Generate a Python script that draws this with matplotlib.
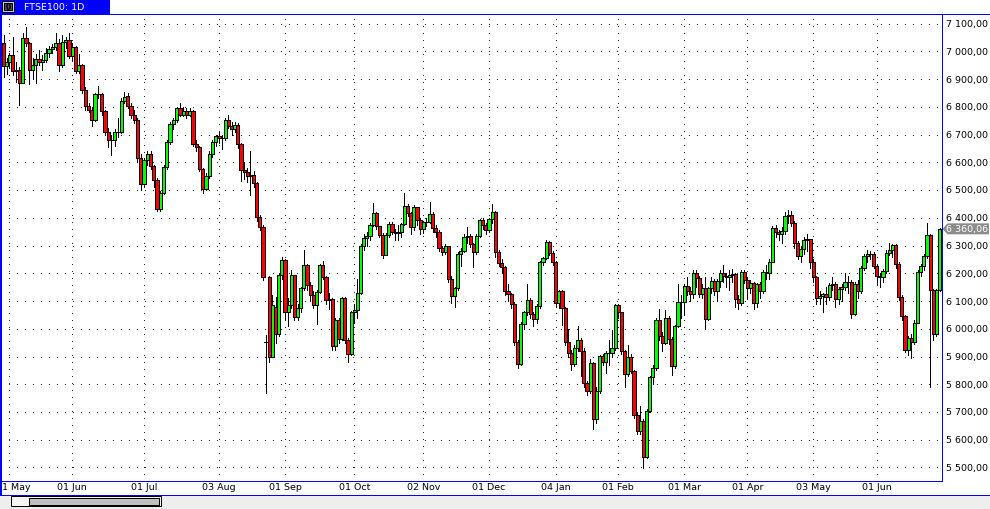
import matplotlib
matplotlib.use("Agg")
import matplotlib.pyplot as plt
import numpy as np
import pandas as pd
from matplotlib.patches import Rectangle, Polygon

# ---------------- data ----------------
uk_holidays = ["2015-05-04", "2015-05-25", "2015-08-31", "2015-12-25", "2015-12-28",
               "2016-01-01", "2016-03-25", "2016-03-28", "2016-05-02", "2016-05-30"]
extra_bars = ["2015-08-23"]   # odd weekend bar drawn in the chart
dates = pd.bdate_range("2015-04-29", "2016-06-29", freq="C", holidays=uk_holidays)
dates = dates.union(pd.DatetimeIndex(extra_bars))

opens = [
    7031, 6947, 6961, 6986, 6928, 6934, 6886, 7047, 7030, 6933, 6950, 6973, 6961, 6969, 6995, 7008, 7014, 7031, 6949, 7033, 7040,
    6984, 7015, 6928, 6950, 6859, 6804, 6790, 6753, 6845, 6846, 6784, 6710, 6681, 6680, 6708, 6710, 6822, 6840, 6804, 6770, 6753, 6616,
    6522, 6608, 6630, 6586, 6535, 6432, 6490, 6582, 6673, 6738, 6752, 6794, 6772, 6786, 6772, 6786, 6666, 6654, 6576, 6504, 6552, 6630, 6672,
    6694, 6686, 6688, 6752, 6732, 6720, 6736, 6666, 6571, 6566, 6552, 6555, 6524, 6402, 6366, 5954, 6186, 5898, 6077, 5981, 6192,
    6246, 6060, 6084, 6192, 6042, 6074, 6146, 6230, 6156, 6120, 6086, 6134, 6230, 6186, 6102, 6108, 5937, 6030, 5964, 6110, 5958, 5910,
    6060, 6069, 6129, 6300, 6326, 6336, 6374, 6416, 6369, 6339, 6267, 6339, 6377, 6347, 6345, 6348, 6377, 6443, 6417, 6365, 6437, 6393,
    6360, 6383, 6384, 6413, 6362, 6350, 6291, 6275, 6297, 6180, 6117, 6146, 6269, 6279, 6329, 6334, 6305, 6275, 6336, 6392, 6374,
    6356, 6395, 6420, 6275, 6237, 6221, 6135, 6125, 6089, 5951, 5873, 6017, 6059, 6104, 6053, 6035, 6081, 6239, 6254, 6314, 6273,
    6242, 6093, 6137, 6074, 5954, 5913, 5873, 5930, 5960, 5921, 5805, 5777, 5877, 5675, 5775, 5901, 5879, 5912, 5911, 5931,
    6086, 6059, 5921, 5837, 5897, 5846, 5690, 5631, 5669, 5537, 5705, 5825, 5858, 6032, 5975, 5949, 6038, 5963, 5865, 6011, 6095,
    6097, 6153, 6137, 6125, 6200, 6182, 6126, 6146, 6035, 6146, 6173, 6137, 6173, 6200, 6189, 6185, 6192, 6199, 6107, 6091, 6203,
    6176, 6146, 6164, 6093, 6161, 6135, 6203, 6200, 6242, 6362, 6347, 6343, 6354, 6405, 6410, 6381, 6309, 6263, 6287, 6321, 6322,
    6242, 6185, 6110, 6117, 6125, 6114, 6157, 6162, 6107, 6143, 6150, 6167, 6170, 6053, 6161, 6136, 6218, 6263, 6269, 6270,
    6227, 6191, 6185, 6209, 6273, 6284, 6303, 6233, 6113, 6045, 5924, 5966, 5951, 6021, 6203, 6227, 6261, 6338, 6140, 5981, 6140,
]
highs = [
    7060, 6975, 6995, 7052, 6960, 6945, 7065, 7086, 7035, 6975, 6990, 7004, 6985, 7013, 7020, 7025, 7064, 7043, 7058, 7050, 7067,
    7030, 7020, 6990, 6955, 6870, 6815, 6800, 6850, 6875, 6850, 6790, 6725, 6700, 6720, 6760, 6830, 6854, 6850, 6812, 6790, 6760, 6630,
    6615, 6640, 6640, 6590, 6545, 6495, 6590, 6680, 6745, 6760, 6800, 6815, 6800, 6795, 6795, 6790, 6680, 6660, 6580, 6560, 6640, 6680, 6700,
    6710, 6700, 6760, 6770, 6745, 6745, 6740, 6670, 6600, 6580, 6642, 6570, 6530, 6410, 6375, 5978, 6190, 6120, 6113, 6200, 6260,
    6250, 6110, 6210, 6195, 6090, 6150, 6285, 6235, 6170, 6135, 6140, 6235, 6245, 6190, 6130, 6110, 6040, 6040, 6115, 6115, 5965, 6065,
    6090, 6180, 6305, 6340, 6350, 6380, 6453, 6420, 6372, 6345, 6345, 6385, 6385, 6360, 6375, 6380, 6489, 6450, 6420, 6445, 6440, 6400,
    6390, 6400, 6458, 6420, 6375, 6355, 6300, 6305, 6300, 6190, 6150, 6275, 6290, 6340, 6365, 6340, 6310, 6340, 6395, 6398, 6380,
    6400, 6449, 6425, 6285, 6250, 6225, 6160, 6130, 6095, 5960, 6025, 6065, 6161, 6110, 6060, 6090, 6245, 6260, 6320, 6318, 6280,
    6245, 6140, 6140, 6080, 6000, 5925, 5940, 6011, 5965, 5930, 5810, 5890, 5880, 5790, 5905, 5910, 5920, 5960, 5995, 6090,
    6090, 6062, 5925, 5942, 5910, 5850, 5700, 5720, 5675, 5710, 5830, 5870, 6040, 6070, 5990, 6068, 6045, 5970, 6015, 6161, 6120,
    6160, 6185, 6150, 6210, 6210, 6190, 6160, 6185, 6150, 6185, 6180, 6180, 6210, 6230, 6200, 6210, 6215, 6200, 6120, 6210, 6210,
    6185, 6175, 6170, 6165, 6170, 6210, 6230, 6250, 6370, 6375, 6355, 6365, 6420, 6428, 6425, 6390, 6315, 6295, 6330, 6340, 6325,
    6250, 6190, 6135, 6130, 6150, 6165, 6185, 6170, 6150, 6160, 6200, 6190, 6175, 6170, 6175, 6225, 6270, 6285, 6280, 6275,
    6230, 6200, 6215, 6285, 6310, 6305, 6305, 6240, 6120, 6050, 5975, 5980, 6030, 6210, 6235, 6270, 6381, 6340, 6145, 6145, 6362,
]
lows = [
    6907, 6918, 6940, 6915, 6890, 6808, 6886, 7020, 6883, 6900, 6886, 6950, 6931, 6960, 6980, 6995, 7005, 6929, 6945, 7010, 6975,
    6970, 6920, 6920, 6850, 6790, 6780, 6732, 6750, 6830, 6770, 6700, 6654, 6627, 6660, 6690, 6705, 6815, 6795, 6760, 6740, 6600, 6500,
    6515, 6590, 6575, 6510, 6425, 6425, 6485, 6575, 6665, 6720, 6745, 6765, 6765, 6760, 6765, 6660, 6640, 6570, 6490, 6500, 6545, 6620, 6660,
    6670, 6648, 6680, 6725, 6700, 6710, 6650, 6534, 6540, 6530, 6482, 6510, 6390, 6355, 6175, 5768, 5880, 5898, 5950, 5975, 6180,
    6035, 6010, 6075, 6030, 6030, 6060, 6140, 6140, 6100, 6075, 6018, 6130, 6180, 6090, 6070, 5925, 5925, 5950, 5960, 5950, 5880, 5905,
    6020, 6040, 6125, 6285, 6300, 6320, 6370, 6360, 6330, 6255, 6265, 6330, 6340, 6320, 6320, 6330, 6375, 6405, 6340, 6355, 6375, 6340,
    6345, 6370, 6380, 6350, 6330, 6280, 6265, 6270, 6170, 6092, 6077, 6140, 6227, 6275, 6310, 6295, 6221, 6270, 6330, 6360, 6340,
    6350, 6380, 6260, 6225, 6200, 6120, 6100, 6075, 5940, 5860, 5870, 6000, 6050, 6040, 6010, 6020, 6075, 6230, 6250, 6265, 6230,
    6080, 6075, 6015, 5940, 5900, 5850, 5865, 5920, 5831, 5790, 5760, 5770, 5639, 5660, 5770, 5870, 5840, 5870, 5900, 5925,
    6040, 5910, 5789, 5830, 5840, 5680, 5620, 5620, 5498, 5535, 5700, 5800, 5850, 5960, 5920, 5945, 5945, 5835, 5860, 6005, 6040,
    6050, 6120, 6100, 6110, 6150, 6115, 6110, 6000, 6030, 6130, 6120, 6100, 6150, 6170, 6150, 6140, 6170, 6080, 6070, 6085, 6165,
    6110, 6130, 6070, 6080, 6110, 6130, 6180, 6180, 6240, 6330, 6320, 6310, 6340, 6380, 6370, 6290, 6250, 6240, 6270, 6280, 6220,
    6170, 6090, 6090, 6060, 6090, 6105, 6140, 6080, 6090, 6100, 6140, 6130, 6040, 6050, 6110, 6130, 6210, 6240, 6250, 6220,
    6160, 6150, 6170, 6200, 6265, 6260, 6220, 6105, 6030, 5915, 5905, 5895, 5945, 6020, 6190, 6210, 6255, 5789, 5961, 5975, 6135,
]
closes = [
    6947, 6961, 6986, 6928, 6934, 6886, 7047, 7030, 6933, 6950, 6973, 6961, 6969, 6995, 7008, 7014, 7031, 6949, 7033, 7040, 6984,
    7015, 6928, 6950, 6859, 6804, 6790, 6753, 6845, 6846, 6784, 6710, 6681, 6680, 6708, 6710, 6822, 6834, 6804, 6770, 6753, 6616, 6522,
    6608, 6630, 6586, 6535, 6432, 6490, 6582, 6673, 6738, 6752, 6794, 6772, 6786, 6772, 6786, 6666, 6654, 6576, 6504, 6552, 6630, 6672, 6694,
    6686, 6688, 6752, 6732, 6720, 6736, 6666, 6571, 6566, 6552, 6555, 6524, 6402, 6366, 6186, 5954, 5898, 6084, 5981, 6192, 6246,
    6060, 6084, 6192, 6042, 6074, 6146, 6230, 6156, 6120, 6086, 6134, 6230, 6186, 6102, 6108, 5937, 6030, 5964, 6110, 5958, 5910, 6060,
    6069, 6129, 6300, 6326, 6336, 6374, 6416, 6369, 6339, 6267, 6339, 6377, 6347, 6345, 6348, 6377, 6443, 6417, 6365, 6437, 6393, 6360,
    6383, 6384, 6413, 6362, 6350, 6291, 6275, 6297, 6180, 6117, 6146, 6269, 6279, 6329, 6334, 6305, 6275, 6336, 6392, 6374, 6356,
    6395, 6420, 6275, 6237, 6221, 6135, 6125, 6089, 5951, 5873, 6017, 6059, 6104, 6053, 6035, 6081, 6239, 6254, 6314, 6273, 6242,
    6093, 6137, 6074, 5954, 5913, 5873, 5930, 5960, 5921, 5805, 5777, 5877, 5675, 5775, 5901, 5879, 5912, 5911, 5931, 6086,
    6059, 5921, 5837, 5897, 5846, 5690, 5631, 5669, 5537, 5705, 5825, 5858, 6032, 5975, 5949, 6038, 5963, 5865, 6011, 6095, 6097,
    6153, 6137, 6125, 6200, 6182, 6126, 6146, 6035, 6146, 6173, 6137, 6173, 6200, 6189, 6185, 6192, 6199, 6107, 6091, 6203, 6176,
    6146, 6164, 6093, 6161, 6135, 6203, 6200, 6242, 6362, 6347, 6343, 6354, 6405, 6410, 6381, 6309, 6263, 6287, 6321, 6322, 6242,
    6185, 6110, 6117, 6125, 6114, 6157, 6162, 6107, 6143, 6150, 6167, 6170, 6053, 6161, 6136, 6218, 6263, 6269, 6270, 6227,
    6191, 6185, 6209, 6273, 6284, 6303, 6233, 6113, 6045, 5924, 5966, 5951, 6021, 6203, 6227, 6261, 6338, 6140, 5981, 6140, 6360.06,
]
y_ticks = list(range(5500, 7101, 100))
title_text = "FTSE100: 1D"

assert len(opens) == len(highs) == len(lows) == len(closes) == len(dates)

# ---------------- layout helpers (pixel geometry) ----------------
W, H = 990, 510
fig = plt.figure(figsize=(W / 100, H / 100), dpi=100)
fig.patch.set_facecolor("white")

def fx(x):
    return x / W

def fy(y):
    return 1 - y / H

PX = 0.72  # one pixel in points
BLUE = "#0000ff"
plot_l, plot_r, plot_t, plot_b = 1, 942, 14.5, 481.5
ax = fig.add_axes([fx(plot_l), fy(plot_b), (plot_r - plot_l) / W, (plot_b - plot_t) / H])
ax.set_facecolor("white")
for s in ax.spines.values():
    s.set_visible(False)

n = len(closes)

# month boundaries (first bar of each month, the partial first month skipped)
month_idx = []
month_lbl = []
seen = {(dates[0].year, dates[0].month)}
for i, d in enumerate(dates):
    if str(d.date()) in extra_bars:
        continue
    key = (d.year, d.month)
    if key not in seen:
        seen.add(key)
        month_idx.append(i)
        month_lbl.append(d.strftime("%d %b"))

# bar-index scale: the chart's bar spacing varies slightly from month to month,
# so the axis is piecewise linear between the month grid lines of the original
grid_px = [9.3, 72.3, 144, 219, 285, 354.3, 423.3, 489, 555.7, 618.3, 684.3, 747.3, 813.3, 876.7]
first_px, last_px, pad_step = 4.0, 939.5, 3.16
anc_i = np.array([-60.0, 0.0] + [float(i) for i in month_idx] + [n - 1.0, n + 59.0])
anc_p = np.array([first_px - 60 * pad_step, first_px] + grid_px + [last_px, last_px + 60 * pad_step])

def fwd(x):
    return np.interp(x, anc_i, anc_p)

def inv(p):
    return np.interp(p, anc_p, anc_i)

ax.set_xscale("function", functions=(fwd, inv))
ax.set_xlim(float(inv(plot_l)), float(inv(plot_r)))
ax.set_xticks([])
ax.set_yticks([])
ax.minorticks_off()

px_per_100 = 27.75
y_top = 7100 + (24.5 - plot_t) / px_per_100 * 100
y_bot = 7100 - (plot_b - 24.5) / px_per_100 * 100
ax.set_ylim(y_bot, y_top)

for v in y_ticks:
    ax.axhline(v, color="#202020", lw=PX, ls=(0, (1, 7)), zorder=0.5, antialiased=False)
for i in month_idx:
    ax.axvline(i, color="#202020", lw=PX, ls=(0, (1, 6)), zorder=0.5, antialiased=False)

# candles
bw = 1.0
for i in range(n):
    o, h, l, c = opens[i], highs[i], lows[i], closes[i]
    ax.vlines(i, l, h, color="black", lw=PX, zorder=2, antialiased=False)
    col = "#00ff00" if c >= o else "#ff0000"
    lo, hi = min(o, c), max(o, c)
    if hi - lo < 1:
        ax.hlines(o, i - bw / 2 - 0.3, i + bw / 2 + 0.3, color="black", lw=PX, zorder=3, antialiased=False)
    else:
        ax.add_patch(Rectangle((i - bw / 2, lo), bw, hi - lo, facecolor=col,
                               edgecolor="black", lw=PX, zorder=3, antialiased=False))

# x labels (the first one sits half outside the left edge, as in the original)
ylab = -(488 - plot_b) / (plot_b - plot_t)
for k, (i, lbl) in enumerate(zip(month_idx, month_lbl)):
    if k == 0:
        fig.text(fx(-4), fy(488), lbl, ha="left", va="center", fontsize=6.8, color="black")
    else:
        ax.text(i, ylab, lbl, transform=ax.get_xaxis_transform(),
                ha="center", va="center", fontsize=6.8, color="black", clip_on=False)

# y labels
def ypx(v):
    return 24.5 + (7100 - v) * px_per_100 / 100

for v in y_ticks:
    s = f"{v:,.2f}".replace(",", " ").replace(".", ",")
    fig.text(fx(946), fy(ypx(v)), s, ha="left", va="center", fontsize=6.8, color="black")

# last price marker
last = closes[-1]
yl = ypx(last)
poly = Polygon([(fx(942.5), fy(yl)), (fx(947.5), fy(yl - 5.5)), (fx(989), fy(yl - 5.5)),
                (fx(989), fy(yl + 5.5)), (fx(947.5), fy(yl + 5.5))], closed=True,
               transform=fig.transFigure, facecolor="#8c8c8c", edgecolor="none", zorder=5)
fig.patches.append(poly)
s_last = f"{last:,.2f}".replace(",", " ").replace(".", ",")
fig.text(fx(946), fy(yl), s_last, ha="left", va="center", fontsize=6.8, color="white", zorder=6)

# frame lines
def hline(y, x0, x1, color=BLUE, lw=1.0):
    fig.add_artist(plt.Line2D([fx(x0), fx(x1)], [fy(y), fy(y)], transform=fig.transFigure,
                              color=color, lw=lw * PX, antialiased=False, zorder=10))

def vline(x, y0, y1, color=BLUE, lw=1.0):
    fig.add_artist(plt.Line2D([fx(x), fx(x)], [fy(y0), fy(y1)], transform=fig.transFigure,
                              color=color, lw=lw * PX, antialiased=False, zorder=10))

# bottom grey strip + scrollbar
fig.patches.append(Rectangle((0, 0), 1, fy(495.5), transform=fig.transFigure,
                             facecolor="#eeeeee", edgecolor="none", zorder=1))
fig.patches.append(Rectangle((fx(10.5), fy(507)), fx(150), 10 / H, transform=fig.transFigure,
                             facecolor="#f4f4f4", edgecolor="black", lw=PX, zorder=2))
fig.patches.append(Rectangle((fx(28.5), fy(505.5)), fx(130), 6.5 / H, transform=fig.transFigure,
                             facecolor="#c0c0c0", edgecolor="black", lw=PX, zorder=3))

hline(481.5, 0, 942)
hline(495.5, 0, 990)
hline(14.5, 0, 990)
vline(0.5, 14.5, 495.5, lw=2)
vline(942, 14.5, 481.5)
vline(989.5, 14.5, 495.5)

# header
fig.patches.append(Rectangle((0, fy(14.5)), fx(108.5), 14.5 / H, transform=fig.transFigure,
                             facecolor=BLUE, edgecolor="none", zorder=4))
vline(109, 0, 14.5)
fig.patches.append(Rectangle((fx(2), fy(12.5)), fx(12), 10.5 / H, transform=fig.transFigure,
                             facecolor="#c8c8c8", edgecolor="black", lw=PX, zorder=5))
fig.patches.append(Rectangle((fx(4), fy(11)), fx(8), 7.5 / H, transform=fig.transFigure,
                             facecolor="#505050", edgecolor="black", lw=PX, zorder=6))
fig.text(fx(8), fy(7.3), "0", ha="center", va="center", fontsize=5.5, color="black",
         fontweight="bold", zorder=7)
fig.text(fx(24), fy(7.2), title_text, ha="left", va="center", fontsize=6.8, color="white", zorder=7)

fig.savefig("out.png", dpi=100, facecolor="white")
